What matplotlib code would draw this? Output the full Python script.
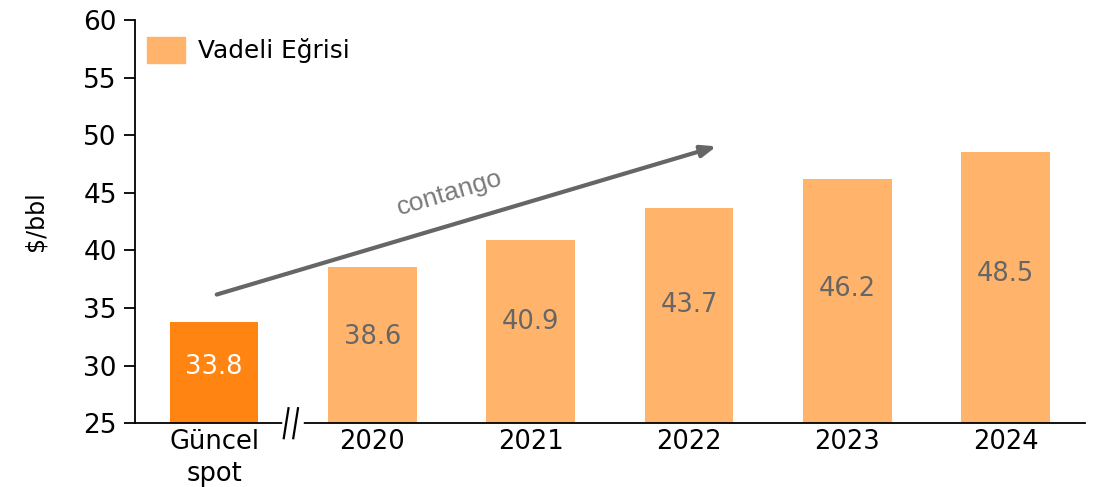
import matplotlib.pyplot as plt
from matplotlib.patches import Patch
import numpy as np

plt.rcParams['font.family'] = ['DejaVu Sans']

## values
categories = ['Güncel\nspot', '2020', '2021', '2022', '2023', '2024']
prices = [33.8, 38.6, 40.9, 43.7, 46.2, 48.5]
legend_label = 'Vadeli Eğrisi'

spot_color = '#FF8412'
curve_color = '#FFB36B'

fig = plt.figure(figsize=(10.97, 4.87), dpi=100)
ax = fig.add_axes([0.123, 0.131, 0.866, 0.828])

x = np.arange(len(categories))
colors = [spot_color] + [curve_color] * (len(categories) - 1)
ax.bar(x, np.array(prices) - 25, bottom=25, width=0.56, color=colors)

for i, v in enumerate(prices):
    ax.text(x[i], 25 + 0.55 * (v - 25), f'{v:.1f}', ha='center', va='center',
            fontsize=18.5, color='white' if i == 0 else '#666666')

ax.set_xlim(-0.5, 5.5)
ax.set_ylim(25, 60)
ax.set_yticks(np.arange(25, 61, 5))
ax.set_xticks(x)
ax.set_xticklabels(categories, fontsize=18.5, linespacing=1.3)
ax.tick_params(axis='x', length=0, pad=4)
ax.tick_params(axis='y', labelsize=19, length=8, width=1.3, direction='out', pad=5)
for s in ['top', 'right']:
    ax.spines[s].set_visible(False)
ax.spines['left'].set_linewidth(1.3)
ax.spines['bottom'].set_linewidth(1.3)
ax.set_ylabel('$/bbl', fontsize=17, labelpad=26)

# axis break between spot and futures
ax.plot([0.45, 0.55], [25, 25], color='white', lw=4, clip_on=False, zorder=5)
for dx in [-0.03, 0.03]:
    ax.plot([0.47 + dx, 0.50 + dx], [23.7, 26.3], color='black', lw=1.6,
            clip_on=False, zorder=6)

# contango arrow
ax.annotate('', xy=(3.19, 49.1), xytext=(0.0, 36.1),
            arrowprops=dict(arrowstyle='-|>,head_length=0.9,head_width=0.35',
                            color='#666666', lw=3))
ax.text(1.49, 45.0, 'contango', rotation=16.5, ha='center', va='center',
        fontsize=19, color='#7a7a7a', family=['Liberation Sans', 'DejaVu Sans'])

ax.legend(handles=[Patch(color=curve_color, label=legend_label)],
          loc='upper left', bbox_to_anchor=(-0.005, 1.0), frameon=False,
          fontsize=17.8, handlelength=1.5, handleheight=1.2, handletextpad=0.55,
          borderaxespad=0.3)

fig.savefig('out.png', dpi=100)
